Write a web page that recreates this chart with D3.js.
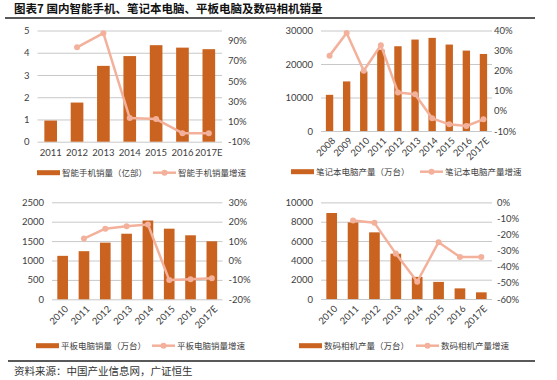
<!DOCTYPE html>
<html><head><meta charset="utf-8">
<script src="https://cdn.jsdelivr.net/npm/d3@7"></script>
<style>body{margin:0;background:#fff}svg{display:block}</style>
</head><body>
<svg id="c" width="557" height="380"></svg>
<script>
// ---- data ----
const phoneYears = ["2011","2012","2013","2014","2015","2016","2017E"];
const phoneSales = [0.95, 1.76, 3.41, 3.85, 4.34, 4.23, 4.16];
const phoneGrowth = [null, 83.4, 97.4, 13.4, 12.4, -1.6, -1.6];
const phoneLeftTicks = [0,1,2,3,4,5];
const phoneRightTicks = [-10,10,30,50,70,90];

const notebookYears = ["2008","2009","2010","2011","2012","2013","2014","2015","2016","2017E"];
const notebookOutput = [10800, 14800, 17800, 24300, 25300, 27300, 27800, 25800, 24000, 23000];
const notebookGrowth = [27.5, 38.8, 20.0, 32.7, 9.2, 8.3, -3.7, -6.7, -7.5, -4.2];
const notebookLeftTicks = [0,10000,20000,30000];
const notebookRightTicks = [-10,0,10,20,30,40];

const tabletYears = ["2010","2011","2012","2013","2014","2015","2016","2017E"];
const tabletSales = [1120, 1240, 1460, 1690, 2030, 1820, 1650, 1495];
const tabletGrowth = [null, 11.3, 16.4, 17.7, 18.6, -10.1, -9.7, -9.2];
const tabletLeftTicks = [0,500,1000,1500,2000,2500];
const tabletRightTicks = [-20,-10,0,10,20,30];

const cameraYears = ["2010","2011","2012","2013","2014","2015","2016","2017E"];
const cameraOutput = [8900, 7930, 6900, 4690, 2290, 1770, 1100, 690];
const cameraGrowth = [null, -11.3, -12.7, -31.8, -49.3, -24.7, -33.9, -33.9];
const cameraLeftTicks = [0,2000,4000,6000,8000,10000];
const cameraRightTicks = [-60,-50,-40,-30,-20,-10,0];

const titleText = "图表7  国内智能手机、笔记本电脑、平板电脑及数码相机销量";
const sourceText = "资料来源：中国产业信息网，广证恒生";

// ---- styles ----
const BAR = "#C9631F";
const LINE = "#F3B19C";
const GRID = "#c8c8c8";
const TXT = "#404040";
const NUMFONT = "Lato, 'Liberation Sans', sans-serif";
const CJK = "'Noto Sans CJK SC', sans-serif";

const svg = d3.select("#c");

svg.append("text").attr("x", 14).attr("y", 13)
  .attr("font-family", CJK).attr("font-weight", 700).attr("font-size", 11.5)
  .attr("fill", "#111").text(titleText);
svg.append("line").attr("x1", 5).attr("x2", 535).attr("y1", 18).attr("y2", 18)
  .attr("stroke", "#222").attr("stroke-width", 1.5);
svg.append("line").attr("x1", 8).attr("x2", 535).attr("y1", 361).attr("y2", 361)
  .attr("stroke", "#222").attr("stroke-width", 1.5);
svg.append("text").attr("x", 14).attr("y", 375)
  .attr("font-family", CJK).attr("font-size", 10.5)
  .attr("fill", "#333").text(sourceText);

function panel(cfg) {
  const g = svg.append("g");
  const x = d3.scaleBand().domain(cfg.cats).range([cfg.x0, cfg.x1])
    .paddingInner(cfg.pad).paddingOuter(cfg.pad / 2);
  const yL = d3.scaleLinear().domain(cfg.leftDomain).range([cfg.yB, cfg.yT]);
  const yR = d3.scaleLinear().domain(cfg.rightDomain).range([cfg.yB, cfg.yT]);

  // gridlines (left axis)
  const axL = d3.axisLeft(yL).tickValues(cfg.leftTicks).tickSize(-(cfg.x1 - cfg.x0))
    .tickPadding(8).tickFormat(d3.format("d"));
  const gl = g.append("g").attr("transform", `translate(${cfg.x0},0)`).call(axL);
  gl.select(".domain").remove();
  gl.selectAll(".tick line").attr("stroke", GRID);
  gl.selectAll(".tick text").attr("font-family", NUMFONT).attr("font-size", 9.5).attr("fill", TXT);

  // right axis labels
  const axR = d3.axisRight(yR).tickValues(cfg.rightTicks).tickSize(0)
    .tickPadding(cfg.rPad).tickFormat(d => d + "%");
  const gr = g.append("g").attr("transform", `translate(${cfg.x1},0)`).call(axR);
  gr.select(".domain").remove();
  gr.selectAll(".tick text").attr("font-family", NUMFONT).attr("font-size", 9.5).attr("fill", TXT);

  // bars
  g.selectAll("rect.bar").data(cfg.bars).join("rect").attr("class", "bar")
    .attr("x", (d, i) => x(cfg.cats[i])).attr("width", x.bandwidth())
    .attr("y", d => yL(d)).attr("height", d => yL(cfg.leftDomain[0]) - yL(d))
    .attr("fill", BAR);

  // line
  const pts = cfg.line.map((v, i) => ({ c: cfg.cats[i], v })).filter(p => p.v != null);
  const line = d3.line().x(p => x(p.c) + x.bandwidth() / 2).y(p => yR(p.v));
  g.append("path").datum(pts).attr("d", line).attr("fill", "none")
    .attr("stroke", LINE).attr("stroke-width", 2.5).attr("stroke-linejoin", "round");
  g.selectAll("circle.pt").data(pts).join("circle").attr("class", "pt")
    .attr("cx", p => x(p.c) + x.bandwidth() / 2).attr("cy", p => yR(p.v))
    .attr("r", 3).attr("fill", LINE);

  // x labels
  const xl = g.selectAll("text.xl").data(cfg.cats).join("text").attr("class", "xl")
    .attr("font-family", NUMFONT).attr("font-size", 9.5).attr("fill", TXT).text(d => d);
  if (cfg.rotate) {
    xl.attr("text-anchor", "end")
      .attr("transform", d => `translate(${x(d) + x.bandwidth() / 2 + 4},${cfg.yB + 8}) rotate(-45)`)
      .attr("dy", "0.35em");
  } else {
    xl.attr("text-anchor", "middle")
      .attr("x", d => x(d) + x.bandwidth() / 2).attr("y", cfg.yB + 14);
  }

  // legend
  const ly = cfg.legY;
  g.append("rect").attr("x", cfg.leg1).attr("y", ly - 2.5).attr("width", 23).attr("height", 5).attr("fill", BAR);
  g.append("text").attr("x", cfg.leg1 + 25).attr("y", ly).attr("dy", "0.35em")
    .attr("font-family", CJK).attr("font-size", 8.5).attr("fill", TXT).text(cfg.barName);
  g.append("line").attr("x1", cfg.leg2).attr("x2", cfg.leg2 + 23).attr("y1", ly).attr("y2", ly)
    .attr("stroke", LINE).attr("stroke-width", 2.5);
  g.append("circle").attr("cx", cfg.leg2 + 11.5).attr("cy", ly).attr("r", 3).attr("fill", LINE);
  g.append("text").attr("x", cfg.leg2 + 25).attr("y", ly).attr("dy", "0.35em")
    .attr("font-family", CJK).attr("font-size", 8.5).attr("fill", TXT).text(cfg.lineName);
}

panel({ cats: phoneYears, bars: phoneSales, line: phoneGrowth,
  leftDomain: [0,5], rightDomain: [-10,100], leftTicks: phoneLeftTicks, rightTicks: phoneRightTicks,
  x0: 37.5, x1: 222, yT: 30.5, yB: 141.7, pad: 0.52, rPad: 6, rotate: false,
  legY: 172.7, leg1: 37, leg2: 153, barName: "智能手机销量（亿部）", lineName: "智能手机销量增速" });

panel({ cats: notebookYears, bars: notebookOutput, line: notebookGrowth,
  leftDomain: [0,30000], rightDomain: [-10,40], leftTicks: notebookLeftTicks, rightTicks: notebookRightTicks,
  x0: 321, x1: 492, yT: 30.5, yB: 131, pad: 0.57, rPad: 2, rotate: true,
  legY: 171.7, leg1: 291, leg2: 420, barName: "笔记本电脑产量（万台）", lineName: "笔记本电脑产量增速" });

panel({ cats: tabletYears, bars: tabletSales, line: tabletGrowth,
  leftDomain: [0,2500], rightDomain: [-20,30], leftTicks: tabletLeftTicks, rightTicks: tabletRightTicks,
  x0: 52, x1: 222.5, yT: 202.3, yB: 299.3, pad: 0.5, rPad: 6, rotate: true,
  legY: 345.7, leg1: 36, leg2: 152, barName: "平板电脑销量（万台）", lineName: "平板电脑销量增速" });

panel({ cats: cameraYears, bars: cameraOutput, line: cameraGrowth,
  leftDomain: [0,10000], rightDomain: [-60,0], leftTicks: cameraLeftTicks, rightTicks: cameraRightTicks,
  x0: 321, x1: 492, yT: 202.4, yB: 299, pad: 0.5, rPad: 5, rotate: true,
  legY: 345.7, leg1: 299, leg2: 416, barName: "数码相机产量（万台）", lineName: "数码相机产量增速" });
</script>
</body></html>
